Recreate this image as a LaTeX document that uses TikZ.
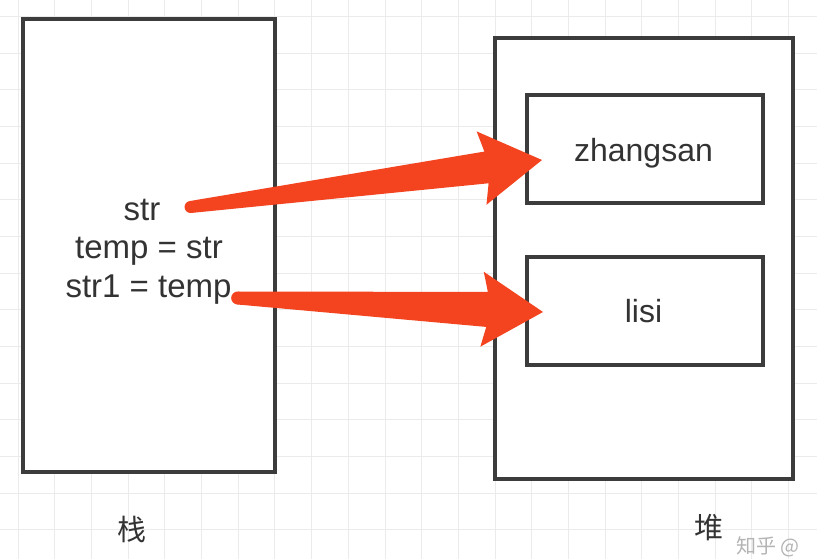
\documentclass[tikz,border=0pt]{standalone}
\usepackage{fontspec}
\setmainfont{Liberation Sans}
\newfontfamily\cjk{Noto Sans CJK SC}
\usetikzlibrary{calc}
\definecolor{linegray}{HTML}{3C3C3C}
\definecolor{textgray}{HTML}{333333}
\definecolor{gridgray}{HTML}{EBEBEB}
\definecolor{arrowred}{HTML}{F4431F}
\definecolor{markgray}{HTML}{B4B4B4}

\begin{document}
\begin{tikzpicture}[x=1pt, y=-1pt,
          box/.style={draw=linegray,line width=3.5pt,fill=white,inner sep=0pt,outer sep=0pt},
          code/.style={text=textgray,font=\fontsize{33}{40}\selectfont,inner sep=0pt,anchor=base},
          value/.style={text=textgray,font=\fontsize{32}{38}\selectfont,inner sep=0pt,anchor=base},
          area/.style={text=textgray,font=\cjk\fontsize{29}{34}\selectfont,inner sep=0pt},
          gridline/.style={draw=gridgray,line width=1pt},
          fat/.style={fill=arrowred},
        ]
        \useasboundingbox (0, 0) rectangle (817, 559);
        \clip (0, 0) rectangle (817, 559);
        \fill[white] (0, 0) rectangle (817, 559);

        % background grid
        \foreach \k in {0,...,21}
          \draw[gridline] (18.3 + 36.67*\k, 0) -- (18.3 + 36.67*\k, 559);
        \foreach \k in {0,...,14}
          \draw[gridline] (0, 16.5 + 36.67*\k) -- (817, 16.5 + 36.67*\k);

        % stack and heap
        \node[box, minimum width=252pt, minimum height=453pt] (stack) at (149, 245.5) {};
        \node[box, minimum width=298pt, minimum height=441pt] (heap) at (644, 258.5) {};
        \node[box, minimum width=236pt, minimum height=108pt] (zs) at (645, 149) {};
        \node[box, minimum width=236pt, minimum height=108pt] (ls) at (645, 311) {};
        \node[value] (zstext) at (643.5, 161) {zhangsan};
        \node[value] (lstext) at (643.5, 322) {lisi};

        \node[code] (str)    at (142, 220)   {str};
        \node[code] (temp)   at (149, 258)   {temp = str};
        \node[code] (strone) at (148.5, 297) {str1 = temp};

        \node[area] (stacklabel) at (132, 529) {栈};
        \node[area] (heaplabel)  at (709, 528) {堆};
        \node[text=markgray, font=\cjk\fontsize{20}{24}\selectfont, inner sep=0pt, anchor=south west]
          (mark) at (736, 557) {知乎 @};

        % references
        \coordinate (t1) at ([xshift=30pt, yshift=13pt]str.base east);
        \coordinate (h1) at ([xshift=15pt, yshift=-11pt]zs.west);
        \coordinate (t2) at ([xshift=6pt, yshift=-1pt]strone.base east);
        \coordinate (h2) at ([xshift=16pt, yshift=-1pt]ls.west);

        \fill[fat] ($(t1)!6pt!90:(h1)$) -- ($(h1)!56pt!(t1)!16pt!-90:(t1)$)
          -- ($(h1)!61pt!(t1)!37pt!-90:(t1)$) -- (h1)
          -- ($(h1)!61pt!(t1)!37pt!90:(t1)$) -- ($(h1)!56pt!(t1)!16pt!90:(t1)$)
          -- ($(t1)!6pt!-90:(h1)$) -- cycle;
        \fill[fat] (t1) circle[radius=6pt];

        \fill[fat] ($(t2)!6.5pt!90:(h2)$) -- ($(h2)!56pt!(t2)!17.5pt!-90:(t2)$)
          -- ($(h2)!61pt!(t2)!37.5pt!-90:(t2)$) -- (h2)
          -- ($(h2)!61pt!(t2)!37.5pt!90:(t2)$) -- ($(h2)!56pt!(t2)!17.5pt!90:(t2)$)
          -- ($(t2)!6.5pt!-90:(h2)$) -- cycle;
        \fill[fat] (t2) circle[radius=6.5pt];
      \end{tikzpicture}
\end{document}
